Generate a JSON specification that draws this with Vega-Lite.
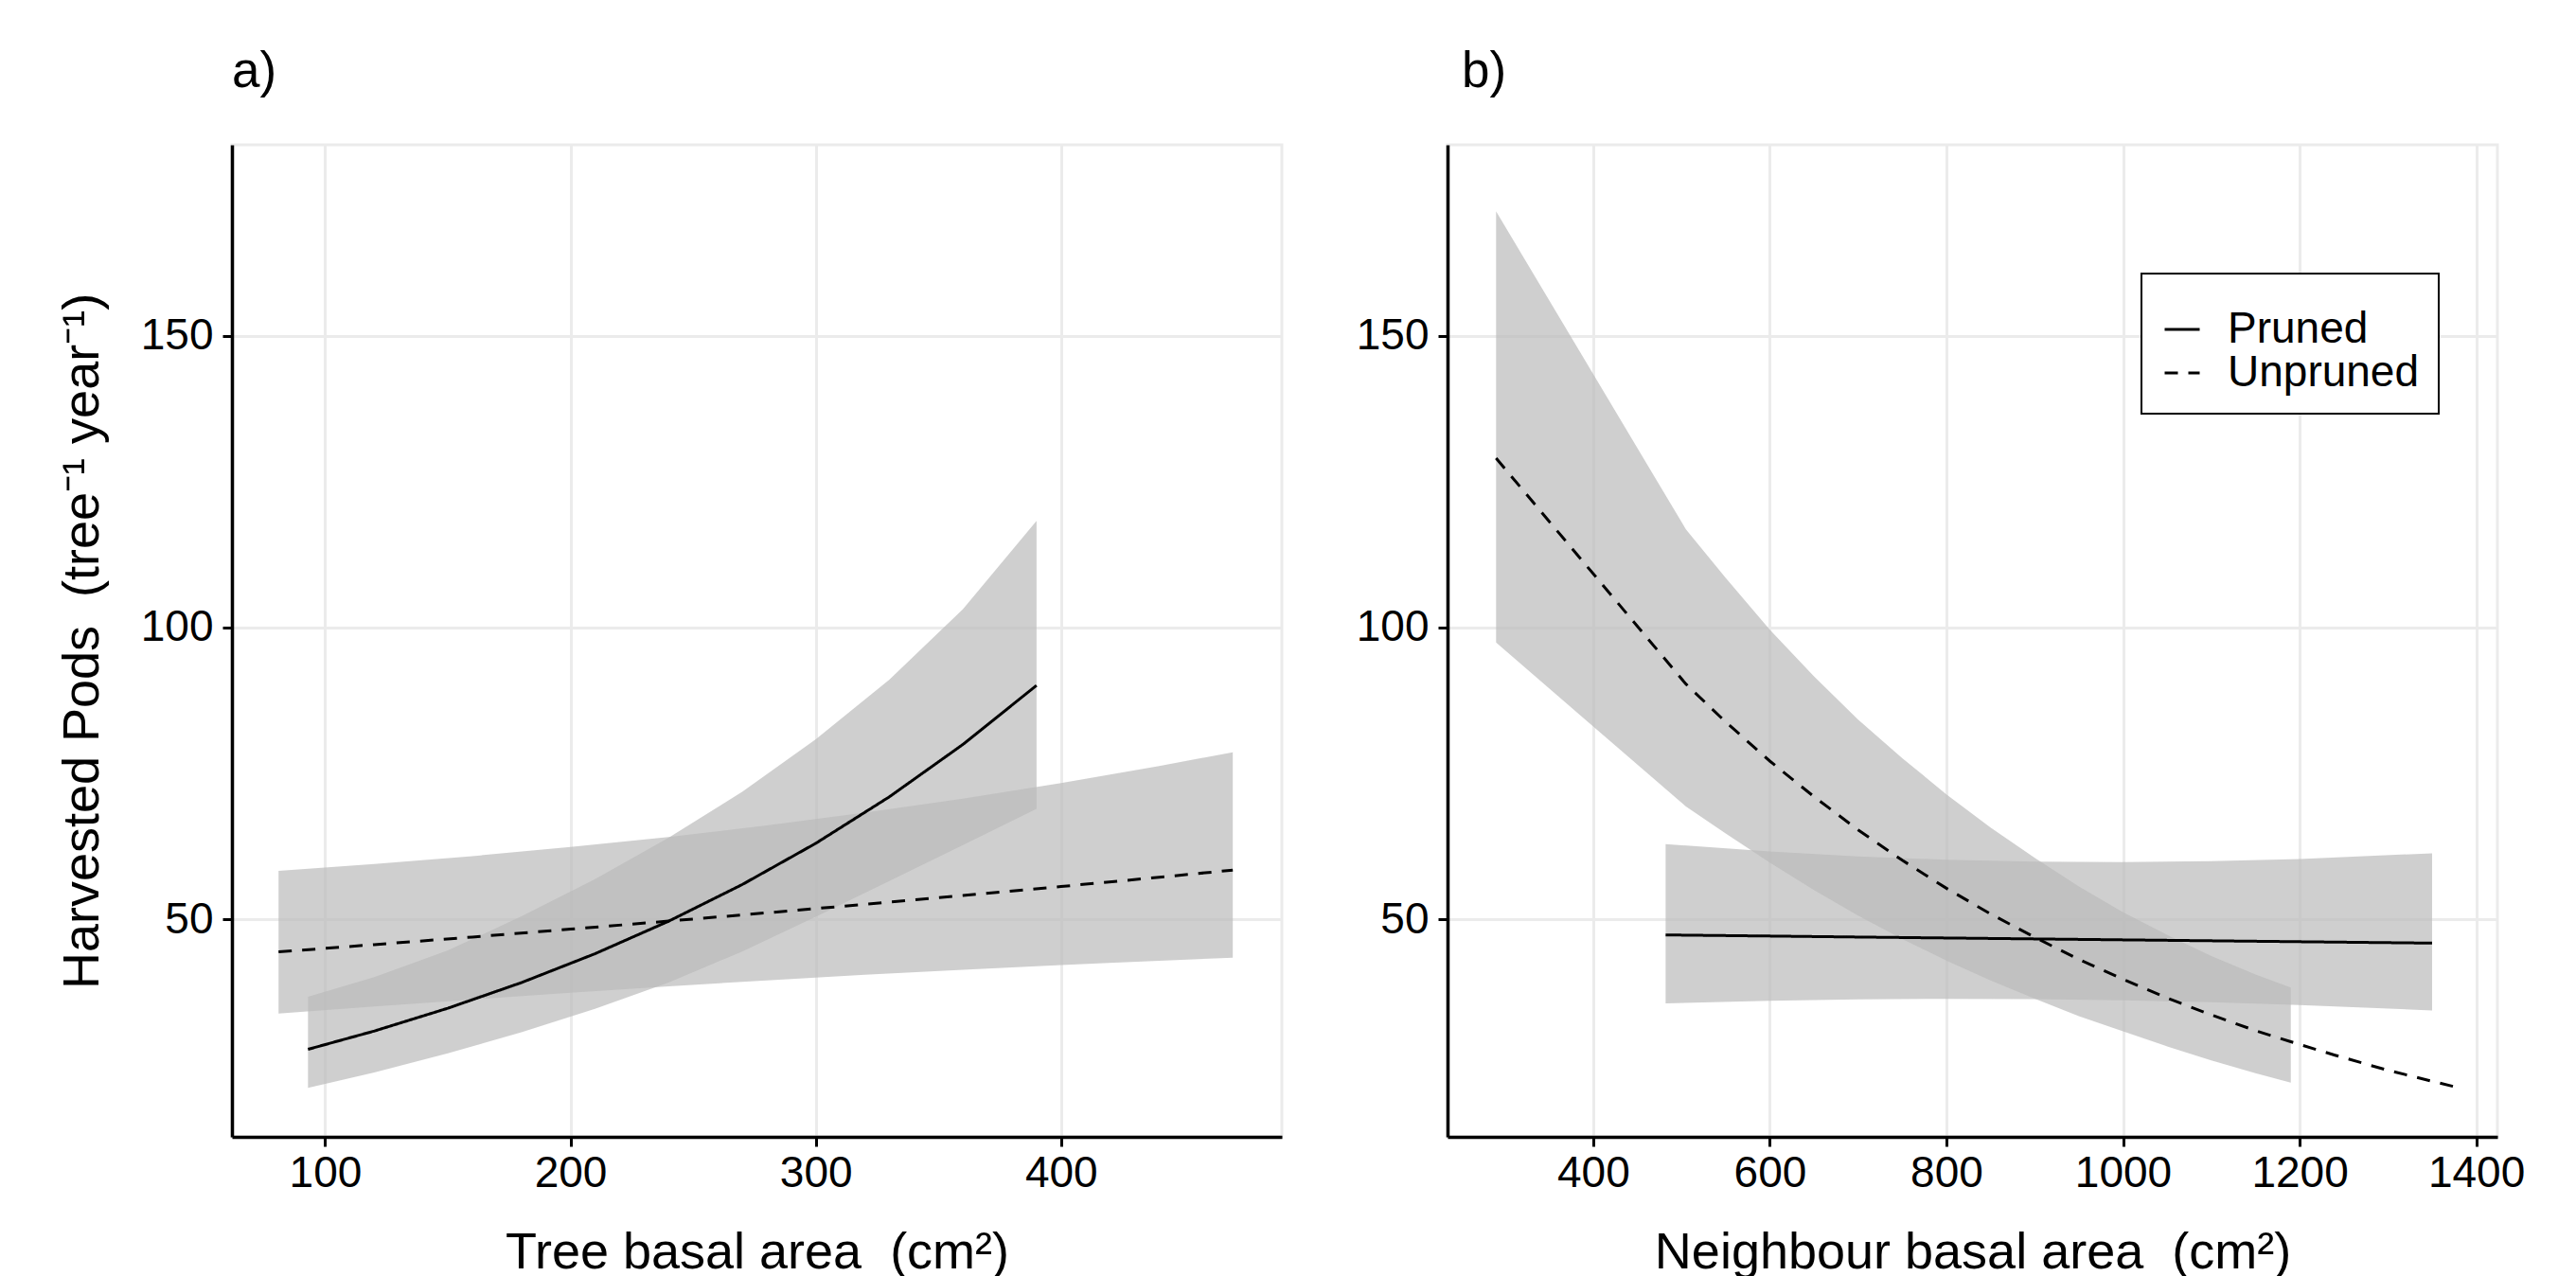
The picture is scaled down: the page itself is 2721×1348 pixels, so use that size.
{
  "$schema": "https://vega.github.io/schema/vega-lite/v6.json",
  "background": "white",
  "padding": {"left": 58, "top": 48, "right": 40, "bottom": 0},
  "config": {
    "font": "Liberation Sans",
    "view": {"stroke": "#EBEBEB", "strokeWidth": 3},
    "axis": {
      "domainColor": "black", "domainWidth": 3.5,
      "tickColor": "black", "tickWidth": 3, "tickSize": 10,
      "gridColor": "#EBEBEB", "gridWidth": 3,
      "labelFont": "Liberation Sans", "labelFontSize": 46, "labelColor": "black",
      "titleFont": "Liberation Sans", "titleFontSize": 54, "titleFontWeight": "normal", "titleColor": "black"
    },
    "title": {"font": "Liberation Sans", "fontSize": 53, "fontWeight": "normal", "color": "black", "anchor": "start", "frame": "group", "baseline": "alphabetic", "offset": 50}
  },
  "datasets": {
    "a": [
      {"group": "Pruned", "x": 93, "fit": 27.70, "lo": 21.10, "hi": 36.70},
      {"group": "Pruned", "x": 120, "fit": 30.83, "lo": 23.72, "hi": 40.08},
      {"group": "Pruned", "x": 150, "fit": 34.74, "lo": 27.03, "hi": 44.64},
      {"group": "Pruned", "x": 180, "fit": 39.13, "lo": 30.62, "hi": 50.48},
      {"group": "Pruned", "x": 210, "fit": 44.08, "lo": 34.65, "hi": 56.86},
      {"group": "Pruned", "x": 240, "fit": 49.65, "lo": 39.16, "hi": 63.95},
      {"group": "Pruned", "x": 270, "fit": 55.93, "lo": 44.46, "hi": 71.81},
      {"group": "Pruned", "x": 300, "fit": 63.00, "lo": 50.40, "hi": 80.83},
      {"group": "Pruned", "x": 330, "fit": 70.97, "lo": 56.55, "hi": 91.05},
      {"group": "Pruned", "x": 360, "fit": 79.95, "lo": 62.71, "hi": 103.14},
      {"group": "Pruned", "x": 390, "fit": 90.06, "lo": 68.91, "hi": 118.25},
      {"group": "Unpruned", "x": 81, "fit": 44.40, "lo": 33.83, "hi": 58.28},
      {"group": "Unpruned", "x": 120, "fit": 45.64, "lo": 35.04, "hi": 59.45},
      {"group": "Unpruned", "x": 160, "fit": 46.94, "lo": 36.24, "hi": 60.81},
      {"group": "Unpruned", "x": 200, "fit": 48.29, "lo": 37.39, "hi": 62.36},
      {"group": "Unpruned", "x": 240, "fit": 49.67, "lo": 38.49, "hi": 64.10},
      {"group": "Unpruned", "x": 280, "fit": 51.09, "lo": 39.52, "hi": 66.05},
      {"group": "Unpruned", "x": 320, "fit": 52.55, "lo": 40.47, "hi": 68.24},
      {"group": "Unpruned", "x": 360, "fit": 54.05, "lo": 41.34, "hi": 70.66},
      {"group": "Unpruned", "x": 400, "fit": 55.60, "lo": 42.15, "hi": 73.34},
      {"group": "Unpruned", "x": 440, "fit": 57.19, "lo": 42.89, "hi": 76.26},
      {"group": "Unpruned", "x": 470, "fit": 58.41, "lo": 43.40, "hi": 78.61}
    ],
    "b": [
      {"group": "Pruned", "x": 482, "fit": 47.30, "lo": 35.59, "hi": 62.86},
      {"group": "Pruned", "x": 600, "fit": 47.11, "lo": 36.03, "hi": 61.60},
      {"group": "Pruned", "x": 700, "fit": 46.94, "lo": 36.26, "hi": 60.77},
      {"group": "Pruned", "x": 800, "fit": 46.78, "lo": 36.36, "hi": 60.19},
      {"group": "Pruned", "x": 900, "fit": 46.62, "lo": 36.31, "hi": 59.86},
      {"group": "Pruned", "x": 1000, "fit": 46.46, "lo": 36.11, "hi": 59.78},
      {"group": "Pruned", "x": 1100, "fit": 46.30, "lo": 35.76, "hi": 59.94},
      {"group": "Pruned", "x": 1200, "fit": 46.14, "lo": 35.29, "hi": 60.33},
      {"group": "Pruned", "x": 1350, "fit": 45.90, "lo": 34.37, "hi": 61.30},
      {"group": "Unpruned", "x": 290, "fit": 129.0, "lo": 97.4, "hi": 171.3},
      {"group": "Unpruned", "x": 505, "fit": 90.3, "lo": 69.3, "hi": 116.8},
      {"group": "Unpruned", "x": 550, "fit": 83.8, "lo": 64.7, "hi": 108.5},
      {"group": "Unpruned", "x": 600, "fit": 77.1, "lo": 59.7, "hi": 99.6},
      {"group": "Unpruned", "x": 650, "fit": 71.0, "lo": 55.0, "hi": 91.6},
      {"group": "Unpruned", "x": 700, "fit": 65.3, "lo": 50.6, "hi": 84.2},
      {"group": "Unpruned", "x": 750, "fit": 60.1, "lo": 46.6, "hi": 77.6},
      {"group": "Unpruned", "x": 800, "fit": 55.3, "lo": 42.9, "hi": 71.4},
      {"group": "Unpruned", "x": 850, "fit": 50.9, "lo": 39.5, "hi": 65.7},
      {"group": "Unpruned", "x": 900, "fit": 46.9, "lo": 36.4, "hi": 60.5},
      {"group": "Unpruned", "x": 950, "fit": 43.1, "lo": 33.4, "hi": 55.6},
      {"group": "Unpruned", "x": 1000, "fit": 39.7, "lo": 30.8, "hi": 51.2},
      {"group": "Unpruned", "x": 1050, "fit": 36.5, "lo": 28.2, "hi": 47.3},
      {"group": "Unpruned", "x": 1100, "fit": 33.6, "lo": 25.8, "hi": 43.7},
      {"group": "Unpruned", "x": 1150, "fit": 30.9, "lo": 23.6, "hi": 40.5},
      {"group": "Unpruned", "x": 1190, "fit": 29.0, "lo": 22.0, "hi": 38.3},
      {"group": "Unpruned", "x": 1240, "fit": 26.7, "lo": null, "hi": null},
      {"group": "Unpruned", "x": 1300, "fit": 24.1, "lo": null, "hi": null},
      {"group": "Unpruned", "x": 1375, "fit": 21.3, "lo": null, "hi": null}
    ]
  },
  "spacing": 175,
  "bounds": "flush",
  "hconcat": [
    {
      "title": {"text": "a)"},
      "width": 1109,
      "height": 1048,
      "data": {"name": "a"},
      "layer": [
        {
          "mark": {"type": "area", "color": "#BBBBBB", "opacity": 0.7},
          "encoding": {
            "x": {"field": "x", "type": "quantitative", "scale": {"domain": [62, 490], "nice": false, "zero": false},
                  "axis": {"title": "Tree basal area\u00a0 (cm²)", "format": "d", "values": [100, 200, 300, 400], "labelPadding": 6, "titleBaseline": "alphabetic", "titleX": 554.5, "titleY": 138}},
            "y": {"field": "lo", "type": "quantitative", "scale": {"domain": [12.7, 182.7], "nice": false, "zero": false},
                  "axis": {"title": "Harvested Pods\u00a0 (tree⁻¹ year⁻¹)", "format": "d", "values": [50, 100, 150], "labelPadding": 10, "titleBaseline": "alphabetic", "titleX": -142, "titleY": 524}},
            "y2": {"field": "hi"},
            "detail": {"field": "group", "type": "nominal"}
          }
        },
        {
          "mark": {"type": "line", "color": "black", "strokeWidth": 3},
          "encoding": {
            "x": {"field": "x", "type": "quantitative"},
            "y": {"field": "fit", "type": "quantitative"},
            "strokeDash": {"field": "group", "type": "nominal", "scale": {"domain": ["Pruned", "Unpruned"], "range": [[1, 0], [14, 11]]}, "legend": null}
          }
        }
      ]
    },
    {
      "title": {"text": "b)", "dx": 15},
      "width": 1109,
      "height": 1048,
      "data": {"name": "b"},
      "layer": [
        {
          "mark": {"type": "area", "color": "#BBBBBB", "opacity": 0.7},
          "encoding": {
            "x": {"field": "x", "type": "quantitative", "scale": {"domain": [235, 1424], "nice": false, "zero": false},
                  "axis": {"title": "Neighbour basal area\u00a0 (cm²)", "format": "d", "values": [400, 600, 800, 1000, 1200, 1400], "labelPadding": 6, "titleBaseline": "alphabetic", "titleX": 554.5, "titleY": 138}},
            "y": {"field": "lo", "type": "quantitative", "scale": {"domain": [12.7, 182.7], "nice": false, "zero": false},
                  "axis": {"title": null, "format": "d", "values": [50, 100, 150], "labelPadding": 10}},
            "y2": {"field": "hi"},
            "detail": {"field": "group", "type": "nominal"}
          }
        },
        {
          "mark": {"type": "line", "color": "black", "strokeWidth": 3},
          "encoding": {
            "x": {"field": "x", "type": "quantitative"},
            "y": {"field": "fit", "type": "quantitative"},
            "strokeDash": {"field": "group", "type": "nominal", "scale": {"domain": ["Pruned", "Unpruned"], "range": [[1, 0], [14, 11]]},
              "legend": {"title": " ", "titleFontSize": 14, "titlePadding": 2, "orient": "none", "legendX": 733, "legendY": 136,
                         "padding": 20, "strokeColor": "black", "fillColor": "white", "symbolType": "stroke", "symbolSize": 1369,
                         "symbolStrokeWidth": 3, "symbolStrokeColor": "black", "labelFontSize": 46, "labelFont": "Liberation Sans", "labelColor": "black",
                         "labelOffset": 25, "labelLimit": 0, "rowPadding": 0,
                         "encode": {"legend": {"update": {"strokeWidth": {"value": 2}}}}}}
          }
        }
      ]
    }
  ],
  "resolve": {"scale": {"x": "independent", "y": "independent", "strokeDash": "independent"}, "legend": {"strokeDash": "independent"}}
}
